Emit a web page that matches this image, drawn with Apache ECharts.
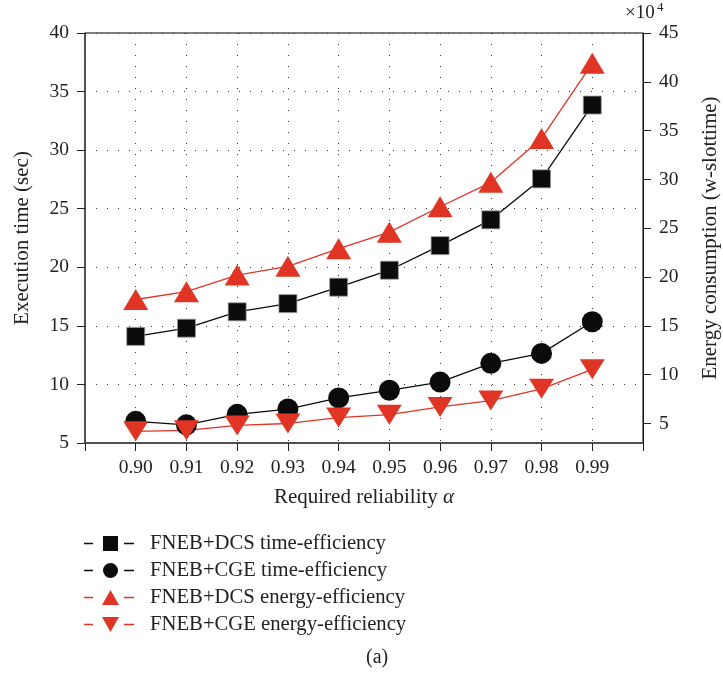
<!DOCTYPE html>
<html>
<head>
<meta charset="utf-8">
<script src="https://cdn.jsdelivr.net/npm/echarts@6/dist/echarts.min.js"></script>
<style>html,body{margin:0;padding:0;background:#fff}#c{width:723px;height:677px}</style>
</head>
<body>
<div id="c"></div>
<script>
// ---- data ----
const axisCategories = ['0.89','0.90','0.91','0.92','0.93','0.94','0.95','0.96','0.97','0.98','0.99','1.00'];
const reliability = ['0.90','0.91','0.92','0.93','0.94','0.95','0.96','0.97','0.98','0.99'];
const timeDCS = [14.1, 14.8, 16.2, 16.9, 18.3, 19.75, 21.85, 24.05, 27.55, 33.85];
const timeCGE = [6.85, 6.55, 7.45, 7.9, 8.85, 9.5, 10.2, 11.8, 12.65, 15.35];
const energyDCS = [17.7, 18.5, 20.2, 21.1, 22.9, 24.6, 27.2, 29.7, 34.2, 41.9];   // x10^4
const energyCGE = [4.2, 4.3, 4.8, 5.0, 5.6, 5.9, 6.7, 7.35, 8.55, 10.55];         // x10^4
const leftTicks = [5, 10, 15, 20, 25, 30, 35, 40];
const rightTicks = [5, 10, 15, 20, 25, 30, 35, 40, 45];
const seriesNames = ['FNEB+DCS time-efficiency','FNEB+CGE time-efficiency','FNEB+DCS energy-efficiency','FNEB+CGE energy-efficiency'];

const BLACK = '#0b0b0b';
const RED = '#e03424';
const FONT = '"Liberation Serif", "DejaVu Serif", serif';

function pairs(vals){ return reliability.map((r,i)=>[r, vals[i]]); }

// legend icons: dash - symbol - dash (box 50 x 15)
const dashes = 'M0 6.7 L9 6.7 L9 8.3 L0 8.3 Z M40 6.7 L50 6.7 L50 8.3 L40 8.3 Z ';
const iconSquare = 'path://' + dashes + 'M19 0 L34 0 L34 15 L19 15 Z';
const iconCircle = 'path://' + dashes + 'M26.5 0 A7.5 7.5 0 1 1 26.5 15 A7.5 7.5 0 1 1 26.5 0 Z';
const iconUp = 'path://' + dashes + 'M18 15 L26.5 0 L35 15 Z';
const iconDown = 'path://' + dashes + 'M18 0 L35 0 L26.5 15 Z';

const chart = echarts.init(document.getElementById('c'));
const dotted = {color:'#333', width:1, type:[1,10]};

chart.setOption({
  animation:false,
  backgroundColor:'#fff',
  textStyle:{fontFamily:FONT},
  grid:{left:85, right:80, top:33, bottom:234, show:true, borderColor:'#000', borderWidth:1,
        containLabel:false, outerBoundsMode:'none'},
  legend:{
    orient:'vertical', left:84, top:533, padding:0, itemWidth:50, itemHeight:15, itemGap:6,
    textStyle:{fontFamily:FONT, fontSize:20.7, color:'#222', padding:[0,0,0,11]},
    itemStyle:{borderWidth:0},
    data:[
      {name:seriesNames[0], icon:iconSquare},
      {name:seriesNames[1], icon:iconCircle},
      {name:seriesNames[2], icon:iconUp},
      {name:seriesNames[3], icon:iconDown}
    ]
  },
  xAxis:{
    type:'category', data:axisCategories, boundaryGap:false,
    name:'{n|Required reliability }{a|α}', nameLocation:'middle', nameGap:44,
    nameTextStyle:{rich:{n:{fontFamily:FONT, fontSize:21, color:'#222'}, a:{fontFamily:FONT, fontSize:21, fontStyle:'italic', color:'#222'}}},
    axisLine:{lineStyle:{color:'#444', width:1.5}},
    axisTick:{show:true, inside:false, length:8, interval:0, lineStyle:{color:'#222'}},
    axisLabel:{interval:0, fontSize:19.5, color:'#222', margin:15, fontFamily:FONT,
      formatter:(v,i)=> (i===0 || i===axisCategories.length-1) ? '' : v},
    splitLine:{show:true, interval:0, lineStyle:dotted}
  },
  yAxis:[
    {
      type:'value', min:5, max:40, interval:5, position:'left',
      name:'Execution time (sec)', nameLocation:'middle', nameGap:52, nameRotate:90,
      nameTextStyle:{fontFamily:FONT, fontSize:21, color:'#222'},
      axisLine:{show:true, lineStyle:{color:'#444', width:1.5}},
      axisTick:{show:true, inside:false, length:8, lineStyle:{color:'#222'}},
      axisLabel:{fontSize:19.5, color:'#222', margin:16, fontFamily:FONT,
        customValues:leftTicks},
      splitLine:{show:true, lineStyle:dotted}
    },
    {
      type:'value', min:3, max:45, position:'right',
      name:'Energy consumption (w-slottime)', nameLocation:'middle', nameGap:57, nameRotate:90,
      nameTextStyle:{fontFamily:FONT, fontSize:21, color:'#222'},
      axisLine:{show:true, lineStyle:{color:'#111', width:1}},
      axisTick:{show:true, inside:false, length:8, lineStyle:{color:'#222'}, customValues:rightTicks},
      axisLabel:{fontSize:19.5, color:'#222', margin:16, fontFamily:FONT, customValues:rightTicks},
      splitLine:{show:false}
    }
  ],
  graphic:[
    {type:'text', left:625, top:4, style:{text:'×10', fontFamily:FONT, fontSize:19, fill:'#222'}},
    {type:'text', left:657, top:1, style:{text:'4', fontFamily:FONT, fontSize:13, fill:'#222'}},
    {type:'text', left:366, top:648, style:{text:'(a)', fontFamily:FONT, fontSize:20, fill:'#222'}}
  ],
  series:[
    {name:seriesNames[0], type:'line', yAxisIndex:0, data:pairs(timeDCS),
     symbol:'rect', symbolSize:18, color:BLACK,
     itemStyle:{color:BLACK, borderColor:'#999', borderWidth:0.8},
     lineStyle:{color:BLACK, width:1.3}},
    {name:seriesNames[1], type:'line', yAxisIndex:0, data:pairs(timeCGE),
     symbol:'circle', symbolSize:21, color:BLACK,
     itemStyle:{color:BLACK},
     lineStyle:{color:BLACK, width:1.3}},
    {name:seriesNames[2], type:'line', yAxisIndex:1, data:pairs(energyDCS),
     symbol:'triangle', symbolSize:[25,21], color:RED,
     itemStyle:{color:RED},
     lineStyle:{color:RED, width:1.3}},
    {name:seriesNames[3], type:'line', yAxisIndex:1, data:pairs(energyCGE),
     symbol:'triangle', symbolRotate:180, symbolSize:[25,20], color:RED,
     itemStyle:{color:RED},
     lineStyle:{color:RED, width:1.3}}
  ]
});
</script>
</body>
</html>
